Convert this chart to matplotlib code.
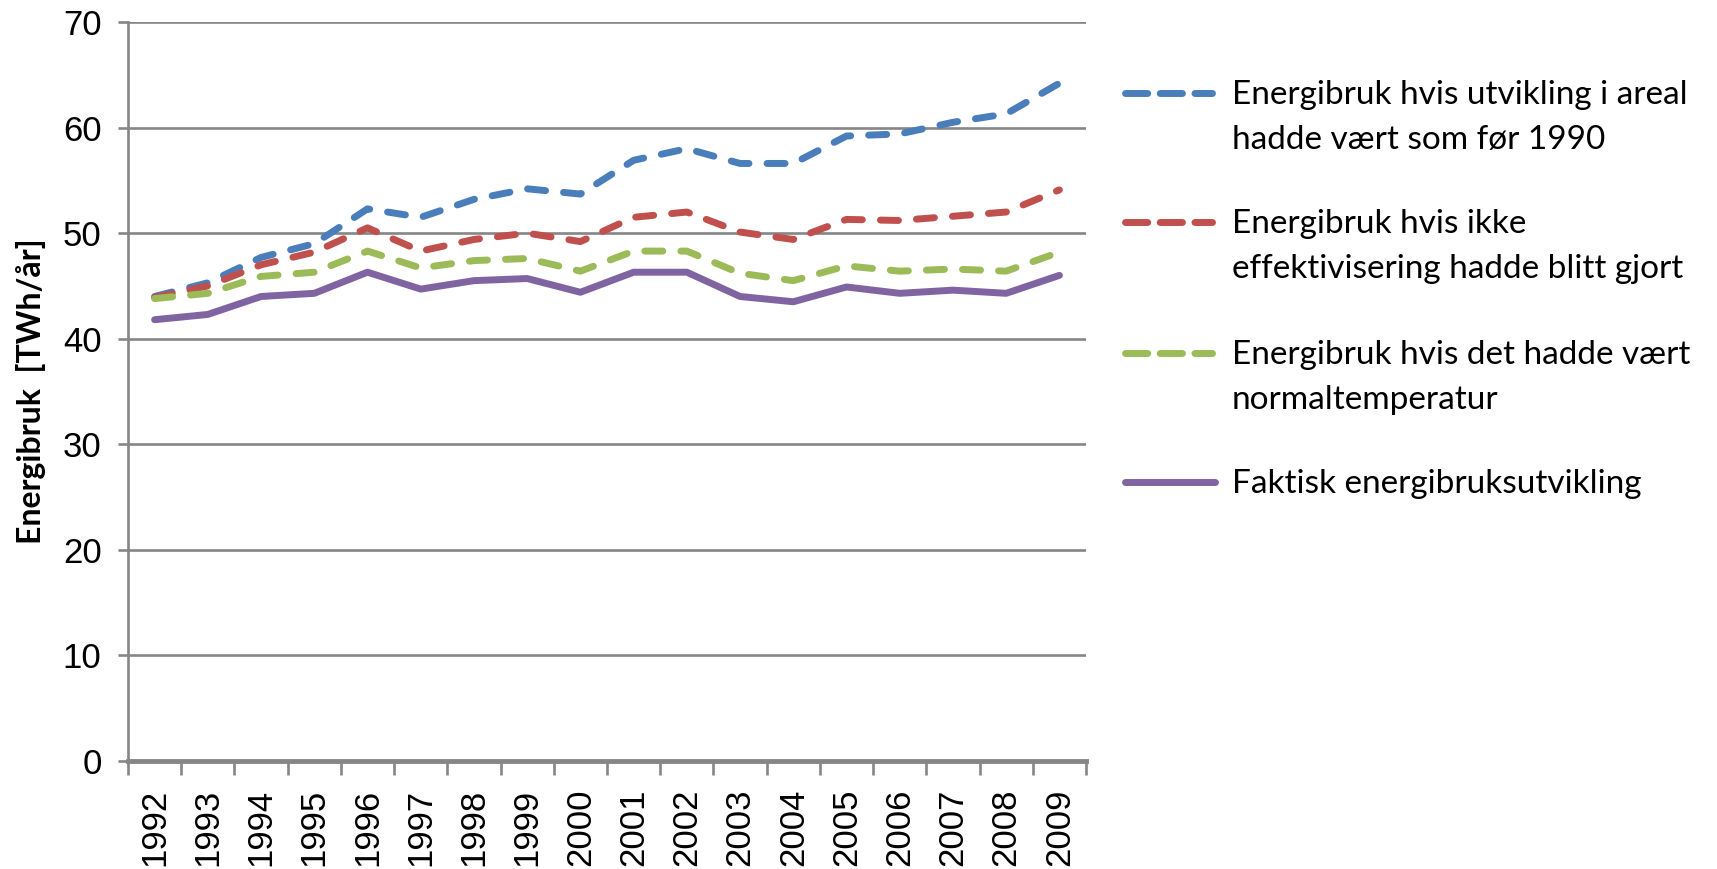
import matplotlib.pyplot as plt
from matplotlib.lines import Line2D
import numpy as np

years = ["1992", "1993", "1994", "1995", "1996", "1997", "1998", "1999", "2000",
         "2001", "2002", "2003", "2004", "2005", "2006", "2007", "2008", "2009"]

areal = [44.0, 45.3, 47.7, 49.0, 52.3, 51.5, 53.2, 54.2, 53.7,
         56.9, 58.0, 56.6, 56.6, 59.2, 59.4, 60.5, 61.3, 64.2]
ikke_eff = [43.9, 45.0, 47.0, 48.2, 50.5, 48.3, 49.4, 50.0, 49.2,
            51.5, 52.0, 50.1, 49.4, 51.3, 51.2, 51.6, 52.0, 54.1]
normaltemp = [43.8, 44.3, 45.9, 46.3, 48.3, 46.7, 47.4, 47.6, 46.4,
              48.3, 48.3, 46.2, 45.5, 46.9, 46.4, 46.6, 46.4, 48.2]
faktisk = [41.8, 42.3, 44.0, 44.3, 46.3, 44.7, 45.5, 45.7, 44.4,
           46.3, 46.3, 44.0, 43.5, 44.9, 44.3, 44.6, 44.3, 46.0]

labels = ["Energibruk hvis utvikling i areal\nhadde vært som før 1990",
          "Energibruk hvis ikke\neffektivisering hadde blitt gjort",
          "Energibruk hvis det hadde vært\nnormaltemperatur",
          "Faktisk energibruksutvikling"]
series = [areal, ikke_eff, normaltemp, faktisk]
colors = ["#4A7EBB", "#C0504D", "#9BBB59", "#8064A2"]
dashed = [True, True, True, False]

W, H = 1717, 869
fig = plt.figure(figsize=(W / 100, H / 100), dpi=100)
ax = fig.add_axes([128 / W, 1 - 761 / H, (1086 - 128) / W, (761 - 22) / H])

grid_col = "#868686"
x = np.arange(len(years))
lw = 5
for vals, col, d in zip(series, colors, dashed):
    if d:
        ax.plot(x, vals, color=col, lw=lw, dashes=(2.6, 2.6),
                dash_capstyle="round", solid_joinstyle="round", zorder=3)
    else:
        ax.plot(x, vals, color=col, lw=lw, solid_capstyle="round",
                solid_joinstyle="round", zorder=3)

ax.set_xlim(-0.5, len(years) - 0.5)
ax.set_ylim(0, 70)
ax.set_yticks(np.arange(0, 71, 10))
for v in np.arange(10, 71, 10):
    ax.axhline(v, color=grid_col, lw=1.9, zorder=1)

for s in ["top", "right"]:
    ax.spines[s].set_visible(False)
ax.spines["left"].set_color(grid_col)
ax.spines["left"].set_linewidth(1.9)
ax.spines["bottom"].set_color(grid_col)
ax.spines["bottom"].set_linewidth(3.5)

tick_font = "Liberation Sans"
ax.set_xticks(x)
ax.set_xticklabels(years, rotation=90, fontsize=25, family=tick_font)
ax.set_xticks(np.arange(-0.5, len(years), 1), minor=True)
ax.tick_params(axis="x", which="major", length=0, pad=20)
ax.tick_params(axis="x", which="minor", length=10, width=1.9, color=grid_col)
ax.tick_params(axis="y", length=7, width=1.9, color=grid_col, pad=12)
for t in ax.get_yticklabels():
    t.set_fontsize(25)
    t.set_family(tick_font)

ax.set_ylabel("Energibruk  [TWh/år]", fontsize=23, fontweight="bold",
              family="Lato", labelpad=12)

# legend drawn by hand so the handle sits on the first text line
rows = [93, 222, 353, 482]
line_step = 45
for lab, col, d, r in zip(labels, colors, dashed, rows):
    yy = 1 - r / H
    if d:
        ln = Line2D([1125 / W, 1212 / W], [yy, yy], transform=fig.transFigure,
                    color=col, lw=lw, dashes=(3.2, 1.8), dash_capstyle="round")
    else:
        ln = Line2D([1125 / W, 1215 / W], [yy, yy], transform=fig.transFigure,
                    color=col, lw=lw, solid_capstyle="round")
    fig.add_artist(ln)
    for k, part in enumerate(lab.split("\n")):
        fig.text(1232 / W, 1 - (r + 11 + k * line_step) / H, part,
                 fontsize=24, family="Lato", va="baseline", ha="left")

fig.savefig("out.png", dpi=100)
